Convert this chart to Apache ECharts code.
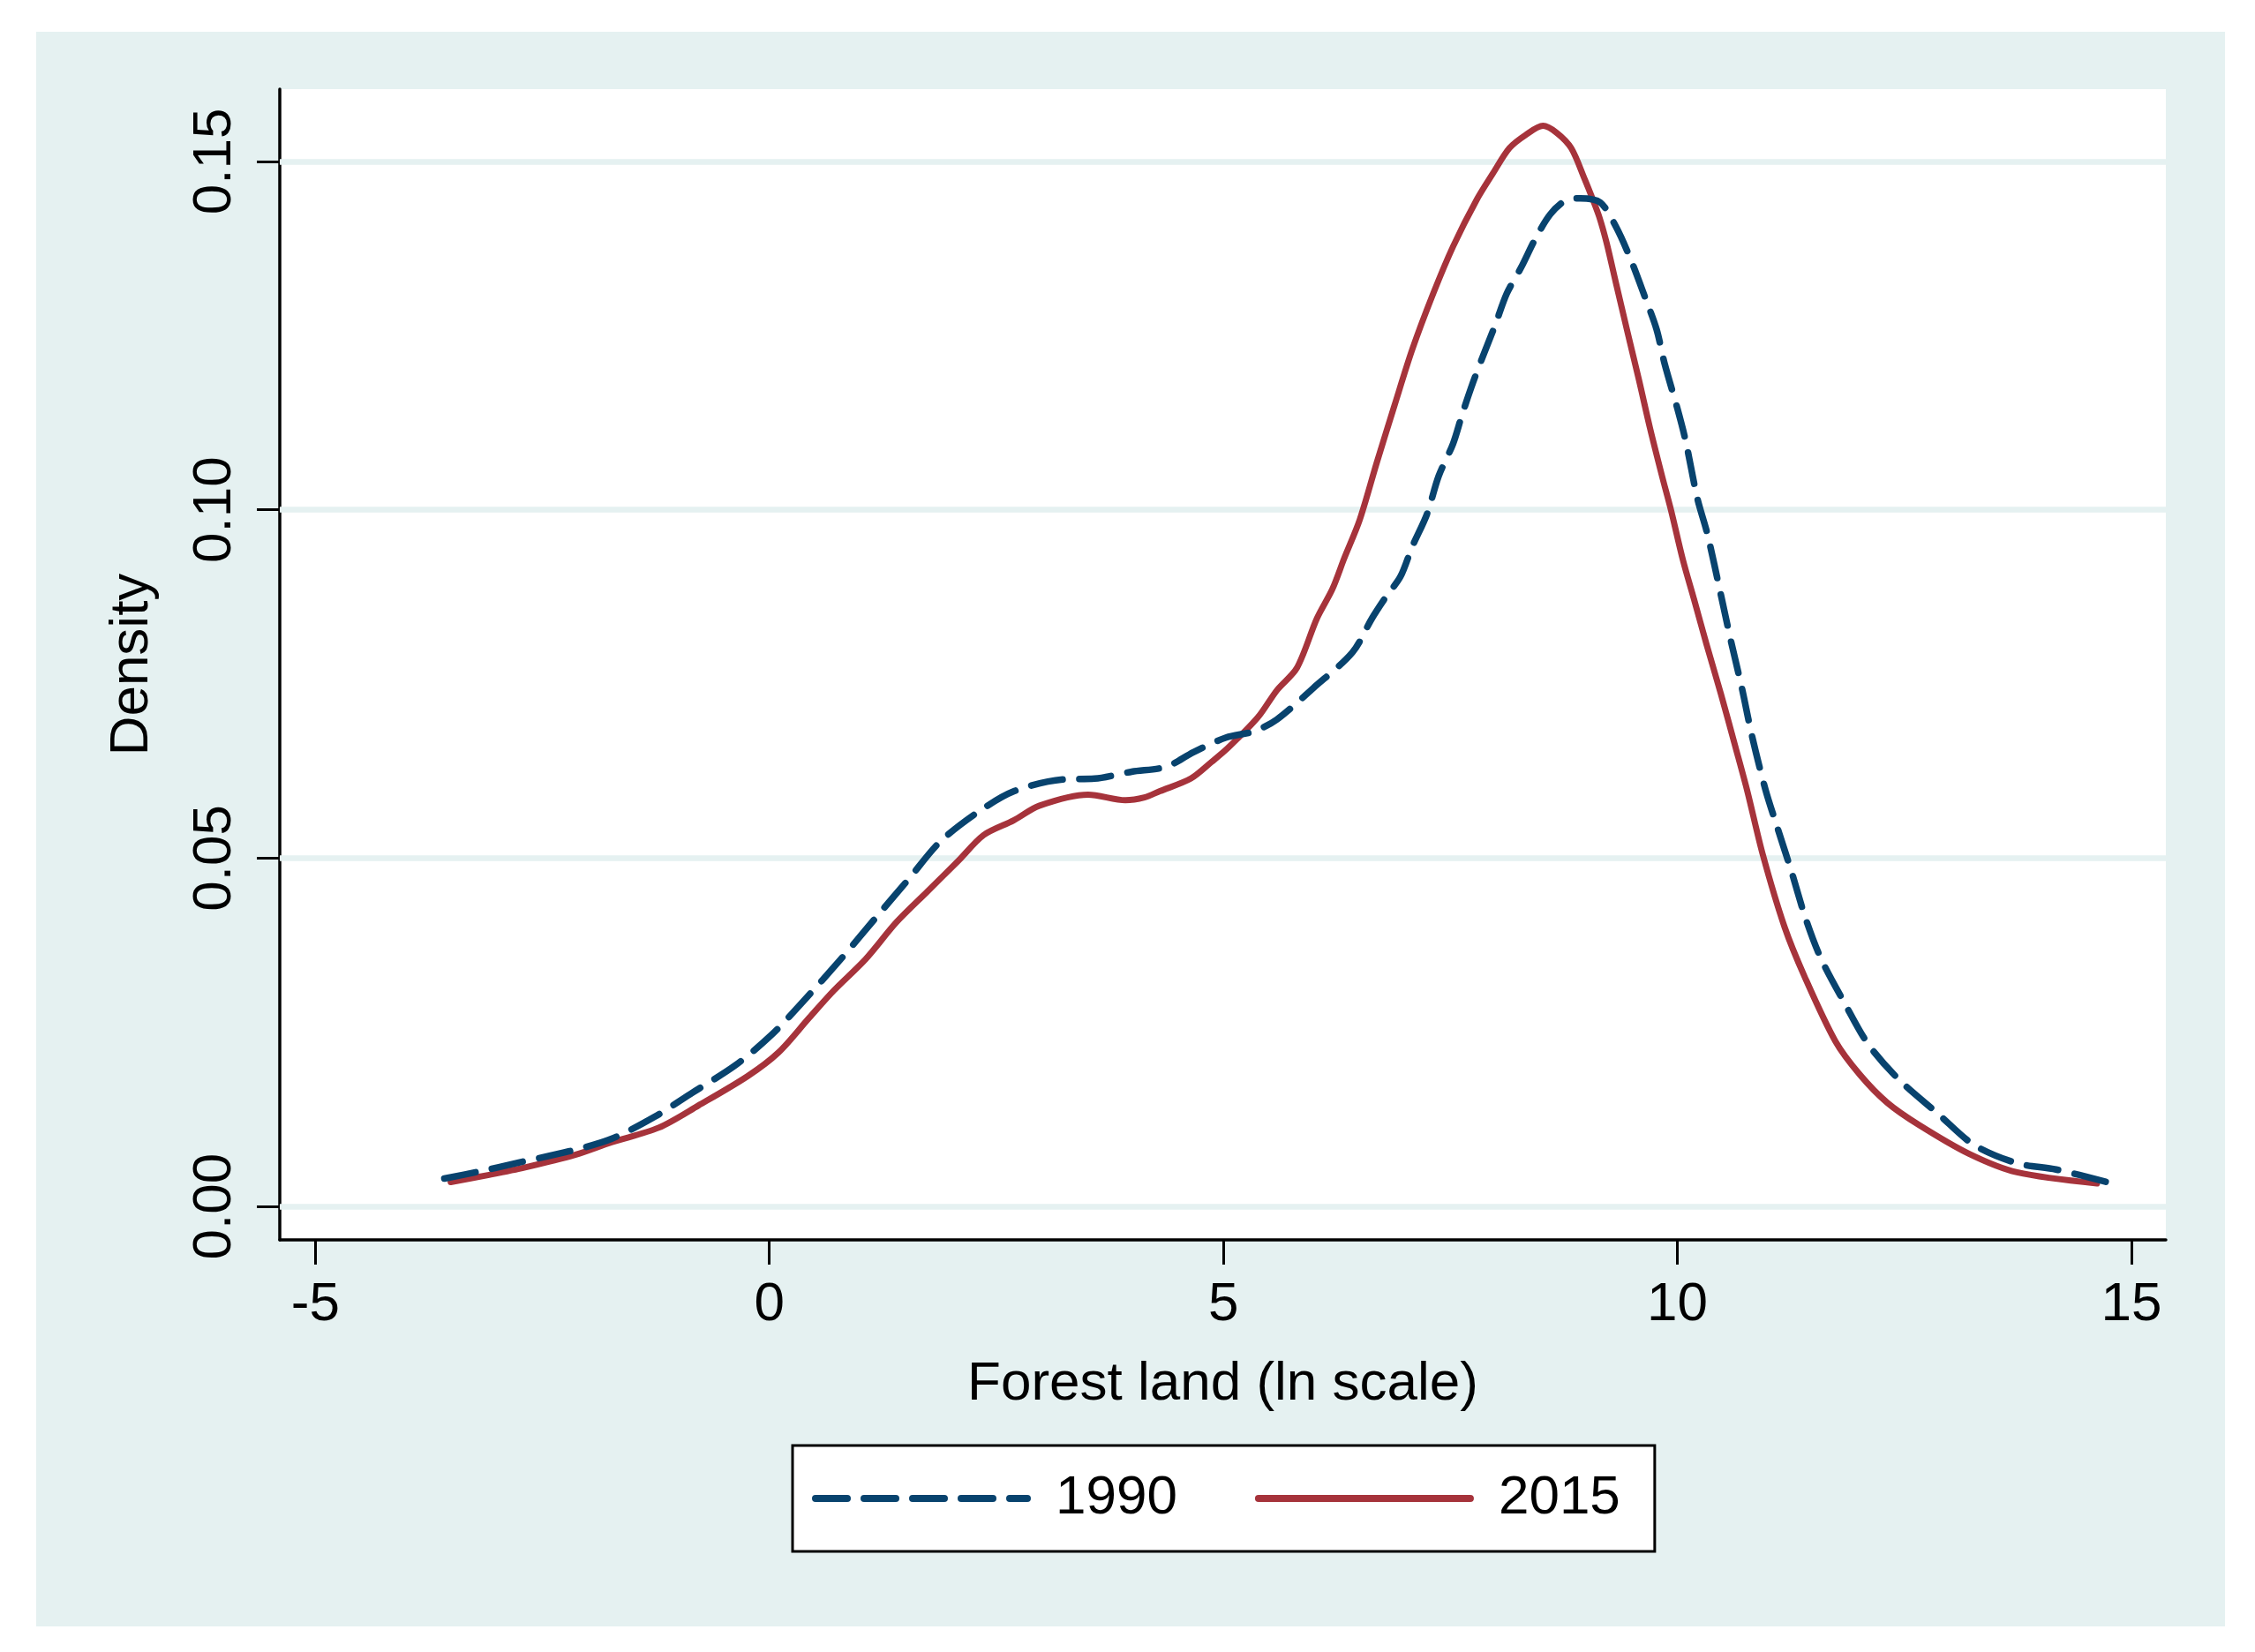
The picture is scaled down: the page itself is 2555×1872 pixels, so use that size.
<!DOCTYPE html>
<html>
<head>
<meta charset="utf-8">
<script src="https://cdn.jsdelivr.net/npm/echarts@6/dist/echarts.min.js"></script>
<style>
  html, body { margin: 0; padding: 0; background: #ffffff; }
  #bg { position: absolute; left: 41px; top: 36px; width: 2480px; height: 1807px; background: #e5f1f1; }
  #chart { position: absolute; left: 0; top: 0; width: 2555px; height: 1872px; }
</style>
</head>
<body>
<div id="bg"></div>
<div id="chart"></div>
<script>
// ---- data ----
const seriesNames = ['1990', '2015'];
const xTicks = [-5, 0, 5, 10, 15];
const yTicks = [0, 0.05, 0.10, 0.15];

const x1990 = [-3.58, -3.2, -2.76, -2.21, -1.74, -1.26, -0.85, -0.37, 0.03, 0.37, 0.78, 1.195, 1.535, 1.877, 2.286, 2.695, 3.24, 3.58, 3.99, 4.37, 4.67, 5.03, 5.34, 5.59, 5.99, 6.42, 6.64, 6.79, 6.95, 7.08, 7.24, 7.37, 7.53, 7.63, 7.75, 7.86, 7.99, 8.12, 8.28, 8.44, 8.60, 8.76, 8.93, 9.15, 9.32, 9.48, 9.64, 9.77, 9.86, 10.00, 10.09, 10.22, 10.33, 10.48, 10.59, 10.71, 10.82, 10.97, 11.10, 11.26, 11.41, 11.58, 11.84, 12.10, 12.44, 12.87, 13.27, 13.74, 14.17, 14.76];
const d1990 = [0.0040, 0.0050, 0.0063, 0.0079, 0.0097, 0.0129, 0.0163, 0.0203, 0.0247, 0.0294, 0.0354, 0.0418, 0.0470, 0.0523, 0.0565, 0.0596, 0.0613, 0.0614, 0.0624, 0.0631, 0.0652, 0.0673, 0.0682, 0.0699, 0.0744, 0.0795, 0.0845, 0.0875, 0.0904, 0.0947, 0.0993, 0.1048, 0.1095, 0.1137, 0.1183, 0.1221, 0.1264, 0.1310, 0.1348, 0.1390, 0.1424, 0.1443, 0.1447, 0.1441, 0.1407, 0.1361, 0.1306, 0.1259, 0.1209, 0.1145, 0.1099, 0.1016, 0.0965, 0.0877, 0.0811, 0.0744, 0.0676, 0.0598, 0.0544, 0.0479, 0.0414, 0.0356, 0.0292, 0.0233, 0.0182, 0.0133, 0.0088, 0.0062, 0.0053, 0.0034];

const x2015 = [-3.51, -3.1, -2.69, -2.14, -1.74, -1.22, -0.78, -0.24, 0.10, 0.44, 0.71, 1.06, 1.40, 1.74, 2.08, 2.36, 2.69, 2.97, 3.51, 3.92, 4.13, 4.30, 4.64, 4.87, 5.05, 5.38, 5.59, 5.81, 6.03, 6.20, 6.33, 6.50, 6.69, 6.885, 7.08, 7.31, 7.53, 7.79, 7.97, 8.15, 8.33, 8.52, 8.67, 8.83, 8.98, 9.06, 9.14, 9.22, 9.32, 9.45, 9.575, 9.70, 9.835, 9.93, 10.06, 10.19, 10.32, 10.48, 10.64, 10.77, 10.94, 11.18, 11.40, 11.74, 12.01, 12.31, 12.66, 13.22, 13.74, 14.62];
const d2015 = [0.0035, 0.0045, 0.0056, 0.0074, 0.0092, 0.0113, 0.0145, 0.0187, 0.0221, 0.0271, 0.0310, 0.0355, 0.0408, 0.0452, 0.0496, 0.0533, 0.0554, 0.0575, 0.0591, 0.0583, 0.0587, 0.0596, 0.0614, 0.0638, 0.0658, 0.0702, 0.0741, 0.0773, 0.0844, 0.0886, 0.0930, 0.0985, 0.1068, 0.1150, 0.1230, 0.1310, 0.1378, 0.1445, 0.1483, 0.1519, 0.1538, 0.1551, 0.1541, 0.1519, 0.1474, 0.1448, 0.1420, 0.1383, 0.1327, 0.1255, 0.1187, 0.1116, 0.1046, 0.0999, 0.0928, 0.0868, 0.0807, 0.0735, 0.0659, 0.0596, 0.0505, 0.0401, 0.0330, 0.0237, 0.0189, 0.0149, 0.0117, 0.0075, 0.0049, 0.0033];

const xTitle = 'Forest land (ln scale)';
const yTitle = 'Density';

// ---- chart ----
const FONT = '"Liberation Sans", Arial, sans-serif';
const BLUE = '#08436e';
const RED = '#a6333b';
const GRIDC = '#e5f1f1';

const pairs = (xs, ys) => xs.map((x, i) => [x, ys[i]]);

const chart = echarts.init(document.getElementById('chart'), null, { renderer: 'canvas' });
chart.setOption({
  backgroundColor: 'transparent',
  animation: false,
  textStyle: { fontFamily: FONT },
  grid: {
    left: 317, right: 101, top: 101, bottom: 467,
    containLabel: false,
    show: true, backgroundColor: '#ffffff', borderWidth: 0
  },
  legend: {
    data: seriesNames,
    left: 898, top: 1638,
    orient: 'horizontal',
    itemWidth: 240, itemHeight: 20, itemGap: 88,
    padding: [25, 39, 25, 22],
    backgroundColor: '#ffffff',
    borderColor: '#000000', borderWidth: 3, borderRadius: 0,
    itemStyle: { color: 'transparent', borderColor: 'transparent', borderWidth: 0 },
    lineStyle: { width: 8, cap: 'round' },
    textStyle: { fontFamily: FONT, fontSize: 62, color: '#000', lineHeight: 70, padding: [0, 0, 0, 27] }
  },
  xAxis: {
    type: 'value',
    min: -5.392, max: 15.379,
    name: xTitle,
    nameLocation: 'middle',
    nameGap: 133,
    nameTextStyle: { fontFamily: FONT, fontSize: 62, color: '#000', verticalAlign: 'top' },
    axisLine: { show: true, onZero: false, lineStyle: { color: '#000', width: 3.5 } },
    axisTick: { show: true, inside: false, length: 28, lineStyle: { color: '#000', width: 3 }, customValues: xTicks },
    axisLabel: { show: true, fontFamily: FONT, fontSize: 62, color: '#000', margin: 43, customValues: xTicks,
                 formatter: v => String(v) },
    splitLine: { show: false }
  },
  yAxis: {
    type: 'value',
    min: -0.0048, max: 0.16036,
    name: yTitle,
    nameLocation: 'middle',
    nameGap: 136,
    nameRotate: 90,
    nameTextStyle: { fontFamily: FONT, fontSize: 62, color: '#000' },
    axisLine: { show: true, onZero: false, lineStyle: { color: '#000', width: 3.5 } },
    axisTick: { show: true, inside: false, length: 26, lineStyle: { color: '#000', width: 3 }, customValues: yTicks },
    axisLabel: { show: true, rotate: 90, fontFamily: FONT, fontSize: 62, color: '#000', margin: 42, customValues: yTicks,
                 formatter: v => Number(v).toFixed(2) },
    splitLine: { show: false }
  },
  series: [
    {
      name: seriesNames[0],
      type: 'line',
      data: pairs(x1990, d1990),
      showSymbol: false, symbol: 'none',
      smooth: 0.3,
      z: 3,
      lineStyle: { color: BLUE, width: 7.5, type: [36, 19], cap: 'round', join: 'round' },
      itemStyle: { color: BLUE },
      markLine: {
        silent: true, symbol: 'none', z: 1,
        label: { show: false },
        lineStyle: { color: GRIDC, width: 6.5, type: 'solid' },
        emphasis: { disabled: true },
        data: yTicks.map(v => ({ yAxis: v }))
      }
    },
    {
      name: seriesNames[1],
      type: 'line',
      data: pairs(x2015, d2015),
      showSymbol: false, symbol: 'none',
      smooth: 0.3,
      z: 2,
      lineStyle: { color: RED, width: 7, type: 'solid', cap: 'round', join: 'round' },
      itemStyle: { color: RED }
    }
  ]
});
</script>
</body>
</html>
